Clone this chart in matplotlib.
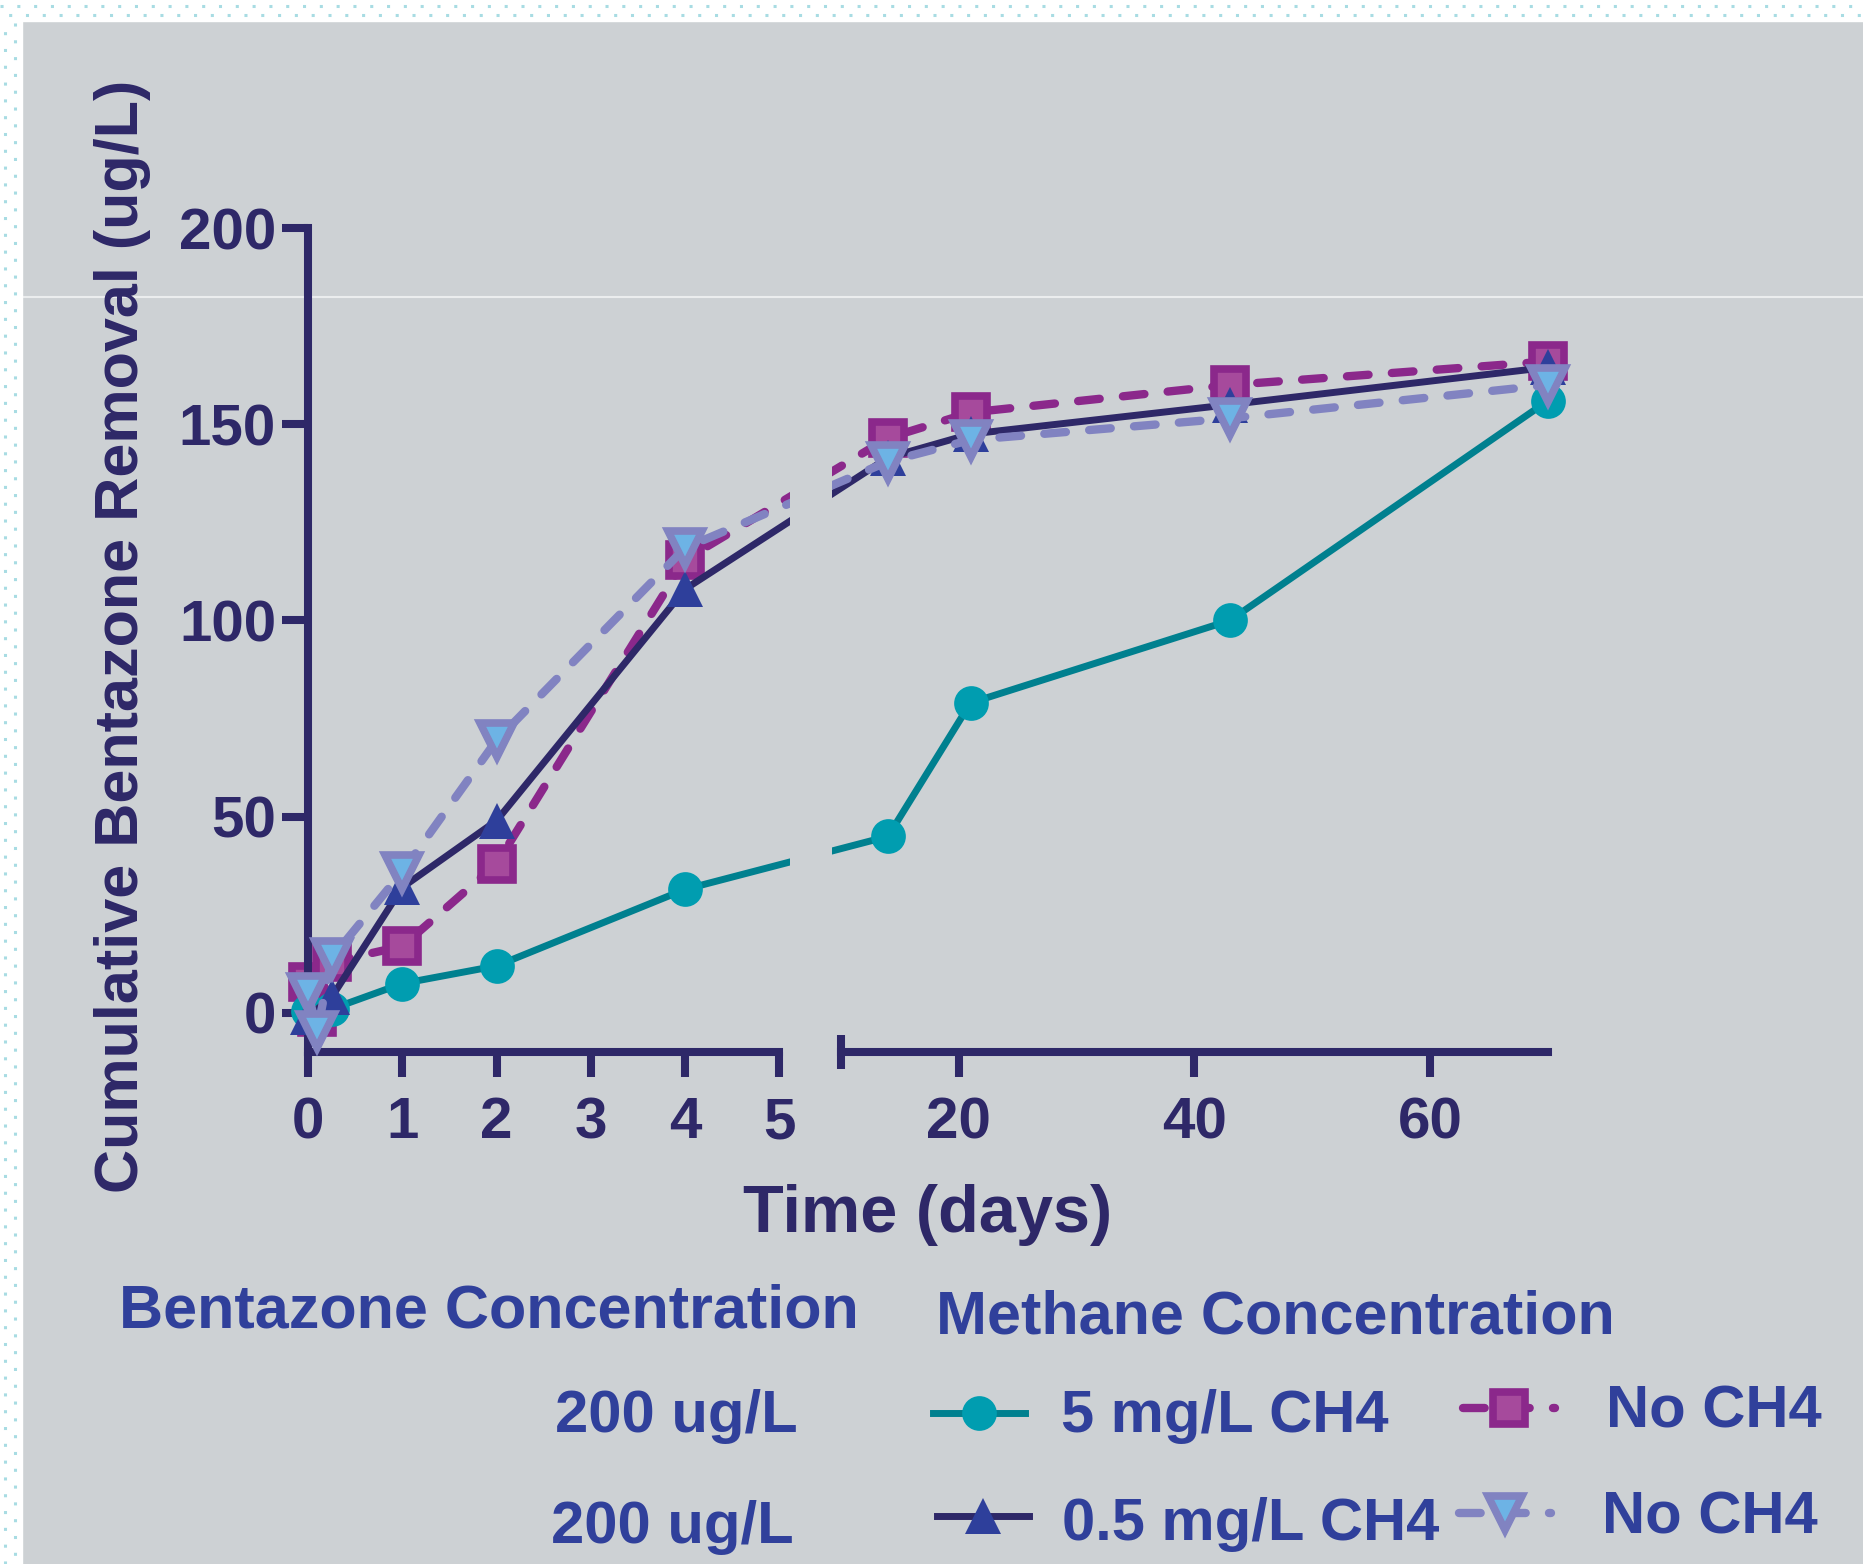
import numpy as np
import matplotlib
matplotlib.use('Agg')
import matplotlib.pyplot as plt
from matplotlib.lines import Line2D
from matplotlib.patches import Rectangle

plt.rcParams['font.family'] = ['Liberation Sans', 'DejaVu Sans']
plt.rcParams['font.weight'] = 'bold'

W, H = 1863, 1564
NAVY = '#2E2868'
BLUE_TXT = '#30409B'
BG = '#CDD1D4'

# ---- data ----
days_5mg = [0, 0.25, 1, 2, 4, 14, 21, 43, 70]
removal_5mg = [0.5, 1, 7.5, 12, 31.5, 45, 79, 100, 156]

days_05mg = [0, 0.25, 1, 2, 4, 14, 21, 43, 70]
removal_05mg = [-1, 4, 32, 49, 108, 141.5, 147.5, 155, 164.5]

days_noch4_a = [0, 0.1, 0.25, 1, 2, 4, 14, 21, 43, 70]
removal_noch4_a = [8, -1, 13, 17, 38, 115.5, 146.5, 153, 160, 166]

days_noch4_b = [0, 0.1, 0.25, 1, 2, 4, 14, 21, 43, 70]
removal_noch4_b = [5, -4.5, 14, 36, 69.5, 118.5, 140.5, 146, 151.5, 160]

left_ticks = [0, 1, 2, 3, 4, 5]
right_ticks = [20, 40, 60]
y_ticks = [0, 50, 100, 150, 200]

# ---- broken x scale: 0-5 days wide, 10-70 days compressed ----
BRK_LO, BRK_HI = 5.0, 10.0
GAP_U = 0.652
K = 0.125


def fwd(x):
    x = np.asarray(x, dtype=float)
    return np.where(x <= BRK_LO, x,
                    np.where(x >= BRK_HI, BRK_LO + GAP_U + (x - BRK_HI) * K,
                             BRK_LO + (x - BRK_LO) * GAP_U / (BRK_HI - BRK_LO)))


def inv(u):
    u = np.asarray(u, dtype=float)
    return np.where(u <= BRK_LO, u,
                    np.where(u >= BRK_LO + GAP_U, BRK_HI + (u - BRK_LO - GAP_U) / K,
                             BRK_LO + (u - BRK_LO) * (BRK_HI - BRK_LO) / GAP_U))


DASH = (0, (2.6, 2.8))
styles = {
    '5mg': dict(color='#00808F', lw=5, marker='o', ms=25, mfc='#009DB0',
                mec='#009DB0', mew=0, zorder=3),
    '05mg': dict(color=NAVY, lw=5, marker='^', ms=26, mfc='#2E3F9B',
                 mec='#2E3F9B', mew=0, zorder=4),
    'noa': dict(color='#8B288B', lw=6, ls=DASH, marker='s', ms=23, mfc='#A64A9C',
                mec='#8B288B', mew=5.5, zorder=2, dash_capstyle='round'),
    'nob': dict(color='#8183C1', lw=6, ls=DASH, marker='v', ms=24, mfc='#6DB3E5',
                mec='#8183C1', mew=5.5, zorder=5, dash_capstyle='round'),
}

fig = plt.figure(figsize=(W / 100, H / 100), dpi=100, facecolor=BG)

# page border (white strip with dots) and thin light line
fig.patches.append(Rectangle((0, 1 - 21 / H), 1, 21 / H, transform=fig.transFigure,
                             color='white', zorder=0))
fig.patches.append(Rectangle((0, 0), 22 / W, 1, transform=fig.transFigure,
                             color='white', zorder=0))
for yy, off in [(6, 0), (15, 8)]:
    fig.add_artist(Line2D([0, 1], [1 - yy / H] * 2, transform=fig.transFigure,
                          color='#A8DCE3', lw=2.2, ls=(off / 3, (1, 4.5))))
for xx, off in [(5, 0), (15, 8)]:
    fig.add_artist(Line2D([xx / W] * 2, [0, 1 - 21 / H], transform=fig.transFigure,
                          color='#A8DCE3', lw=2.2, ls=(off / 3, (1, 4.5))))
fig.add_artist(Line2D([22 / W, 1], [1 - 297 / H] * 2, transform=fig.transFigure,
                      color='#EBEDEE', lw=1.5, zorder=0))

pos = [308 / W, 1 - 1052 / H, (1548 - 308) / W, (1052 - 228) / H]
ax = fig.add_axes(pos)
ax.set_facecolor('none')
ax.set_xscale('function', functions=(fwd, inv))

ax.plot(days_5mg, removal_5mg, clip_on=False, **styles['5mg'])
ax.plot(days_05mg, removal_05mg, clip_on=False, **styles['05mg'])
ax.plot(days_noch4_a, removal_noch4_a, clip_on=False, **styles['noa'])
ax.plot(days_noch4_b, removal_noch4_b, clip_on=False, **styles['nob'])

# hide the lines inside the axis break
ax.axvspan(5.85, 9.27, ymax=0.9, color=BG, lw=0, zorder=6)

ax.set_xlim(0, 70)
ax.set_ylim(-9.94, 200)

for s in ['top', 'right']:
    ax.spines[s].set_visible(False)
for s in ['left', 'bottom']:
    ax.spines[s].set_linewidth(5.8)
    ax.spines[s].set_color(NAVY)
ax.spines['bottom'].set_bounds(0, 5)

ax.set_xticks(left_ticks)
ax.set_xticks([5], minor=True)
ax.set_yticks(y_ticks)
ax.set_yticks([], minor=True)
ax.tick_params(axis='both', which='major', direction='out', width=5.8,
               color=NAVY, labelcolor=NAVY, labelsize=42)
ax.tick_params(axis='x', which='major', length=18, pad=14)
ax.tick_params(axis='y', which='major', length=19, pad=4)
ax.tick_params(axis='x', which='minor', direction='in', length=11, width=5.8,
               color=NAVY)

# second segment of the x axis
ax2 = fig.add_axes(pos)
ax2.set_facecolor('none')
ax2.set_xscale('function', functions=(fwd, inv))
ax2.set_xlim(0, 70)
ax2.set_ylim(-9.94, 200)
ax2.yaxis.set_visible(False)
for s in ['top', 'right', 'left']:
    ax2.spines[s].set_visible(False)
ax2.spines['bottom'].set_linewidth(5.8)
ax2.spines['bottom'].set_color(NAVY)
ax2.spines['bottom'].set_bounds(10, 70)
ax2.set_xticks(right_ticks)
ax2.set_xticks([10], minor=True)
ax2.tick_params(axis='x', which='major', direction='out', width=5.8, length=18,
                pad=14, color=NAVY, labelcolor=NAVY, labelsize=42)
ax2.tick_params(axis='x', which='minor', direction='inout', length=24, width=5.8,
                color=NAVY)

fig.text(928 / W, 1 - 1232 / H, 'Time (days)', fontsize=48, color=NAVY,
         ha='center', va='baseline')
fig.text(123 / W, 1 - 636 / H, 'Cumulative Bentazone Removal (ug/L)', fontsize=44,
         color=NAVY, rotation=90, ha='center', va='center')

# ---- custom legend block ----
fig.text(119 / W, 1 - 1328 / H, 'Bentazone Concentration', fontsize=44,
         color=BLUE_TXT, ha='left', va='baseline')
fig.text(936 / W, 1 - 1334 / H, 'Methane Concentration', fontsize=44,
         color=BLUE_TXT, ha='left', va='baseline')
fig.text(798 / W, 1 - 1432 / H, '200 ug/L', fontsize=43, color=BLUE_TXT,
         ha='right', va='baseline')
fig.text(794 / W, 1 - 1543 / H, '200 ug/L', fontsize=43, color=BLUE_TXT,
         ha='right', va='baseline')

legend_rows = [
    ('5mg', '5 mg/L CH4', 933, 1025, 1413, 1061, 1432),
    ('05mg', '0.5 mg/L CH4', 937, 1029, 1516, 1062, 1540),
    ('noa', 'No CH4', 1463, 1555, 1408, 1606, 1427),
    ('nob', 'No CH4', 1459, 1551, 1513, 1602, 1534),
]
for key, label, x0, x1, yh, xt, yt in legend_rows:
    st = dict(styles[key])
    st.pop('zorder')
    xm = (x0 + x1) / 2
    fig.add_artist(Line2D([x0 / W, xm / W, x1 / W], [1 - yh / H] * 3,
                          transform=fig.transFigure, markevery=[1], **st))
    fig.text(xt / W, 1 - yt / H, label, fontsize=43, color=BLUE_TXT,
             ha='left', va='baseline')

fig.savefig('out.png', dpi=100, facecolor=BG)
